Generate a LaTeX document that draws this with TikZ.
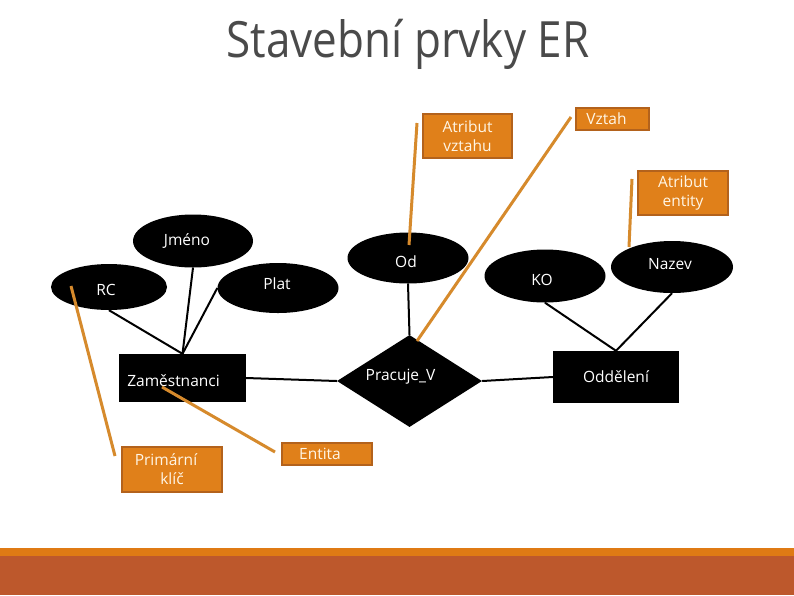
\documentclass[tikz,border=0pt]{standalone}
\usepackage{fontspec}
\setmainfont{Open Sans}
\usetikzlibrary{shapes.geometric}
\definecolor{boxfill}{HTML}{E0801A}
\definecolor{boxline}{HTML}{B3621C}
\definecolor{notetext}{HTML}{FFF6E6}
\definecolor{pointcol}{HTML}{D68A2C}
\definecolor{stripA}{HTML}{DF7A14}
\definecolor{stripB}{HTML}{BD582C}
\definecolor{titlecol}{HTML}{4A4A4A}
\begin{document}
\begin{tikzpicture}[x=1pt,y=-1pt,
  lbl/.style={font=\fontsize{15.5}{19}\selectfont},
  entity/.style={lbl, rectangle, fill=black, text=white, inner sep=0pt},
  attr/.style={lbl, ellipse, fill=black, text=white, inner sep=0pt},
  rel/.style={lbl, diamond, fill=black, text=white, inner sep=0pt},
  link/.style={draw=black, line width=2pt},
  note/.style={lbl, rectangle, fill=boxfill, draw=boxline, line width=1.5pt, text=notetext, align=center, inner sep=0pt},
  pointer/.style={draw=pointcol, line width=3pt},
  txt/.style n args={4}{label={[lbl,text=#1,align=center,xshift=#2,yshift=#3]center:#4}}]
\useasboundingbox (0,0) rectangle (794,595);
\fill[white] (0,0) rectangle (794,595);
% bottom band
\fill[stripA] (0,548) rectangle (794,556);
\fill[stripB] (0,556) rectangle (794,595);
% title
\node[text=titlecol, font=\fontsize{50}{60}\selectfont, xscale=0.88] (title) at (408,44) {Stavební prvky ER};
% attributes
\node[attr, minimum width=120pt, minimum height=53pt, txt={white}{-6pt}{0pt}{Jméno}] (jmeno) at (193,241) {};
\node[attr, minimum width=116pt, minimum height=46pt, txt={white}{-3pt}{-3pt}{RC}] (rc) at (109,287) {};
\node[attr, minimum width=121pt, minimum height=50pt, txt={white}{-1pt}{4pt}{Plat}] (plat) at (278,288) {};
\node[attr, minimum width=121pt, minimum height=51pt, txt={white}{-2pt}{-4pt}{Od}] (od) at (408,258) {};
\node[attr, minimum width=121pt, minimum height=53pt, txt={white}{-3pt}{-4pt}{KO}] (ko) at (545,276) {};
\node[attr, minimum width=122pt, minimum height=52pt, txt={white}{-2pt}{3pt}{Nazev}] (nazev) at (672,267) {};
% entities
\node[entity, minimum width=127pt, minimum height=48pt, txt={white}{-9pt}{-3pt}{Zaměstnanci}] (zam) at (182.5,378) {};
\node[entity, minimum width=126pt, minimum height=52pt] (odd) at (616,377) {Oddělení};
% relationship
\node[rel, minimum width=145pt, minimum height=92pt, txt={white}{-9pt}{4pt}{Pracuje\_V}] (pv) at (409.5,381) {};
% links
\draw[link] (rc.south) -- (zam.north);
\draw[link] (jmeno.south) -- (zam.north);
\draw[link] (plat.west) -- (zam.north);
\draw[link] (zam.east) -- (pv.west);
\draw[link] (od.south) -- (pv.north);
\draw[link] (pv.east) -- (odd.west);
\draw[link] (ko.south) -- (odd.north);
\draw[link] (nazev.south) -- (odd.north);
% notes
\node[note, minimum width=89pt, minimum height=44pt] (av) at (467.5,136) {Atribut\\vztahu};
\node[note, minimum width=73pt, minimum height=22pt, txt={notetext}{-6pt}{0pt}{Vztah}] (vz) at (612.5,119) {};
\node[note, minimum width=90pt, minimum height=44pt] (ae) at (683,193) {Atribut\\entity};
\node[note, minimum width=100pt, minimum height=45pt, txt={notetext}{-6pt}{0pt}{Primární\\\hspace*{12pt}klíč}] (pk) at (172,469.5) {};
\node[note, minimum width=90pt, minimum height=22pt, txt={notetext}{-7pt}{0pt}{Entita}] (en) at (327,454) {};
% pointer ends
\coordinate (avp) at (417,123);
\coordinate (odp) at (409,245);
\coordinate (vzp) at (571,117);
\coordinate (pvp) at (417,341);
\coordinate (aep) at (632,179);
\coordinate (nzp) at (629,247);
\coordinate (rcp) at (71,286);
\coordinate (pkp) at (115,456);
\coordinate (zmp) at (162,387);
\coordinate (enp) at (275,452);
\draw[pointer] (avp) -- (odp);
\draw[pointer] (vzp) -- (pvp);
\draw[pointer] (aep) -- (nzp);
\draw[pointer] (rcp) -- (pkp);
\draw[pointer] (zmp) -- (enp);
\end{tikzpicture}
\end{document}
